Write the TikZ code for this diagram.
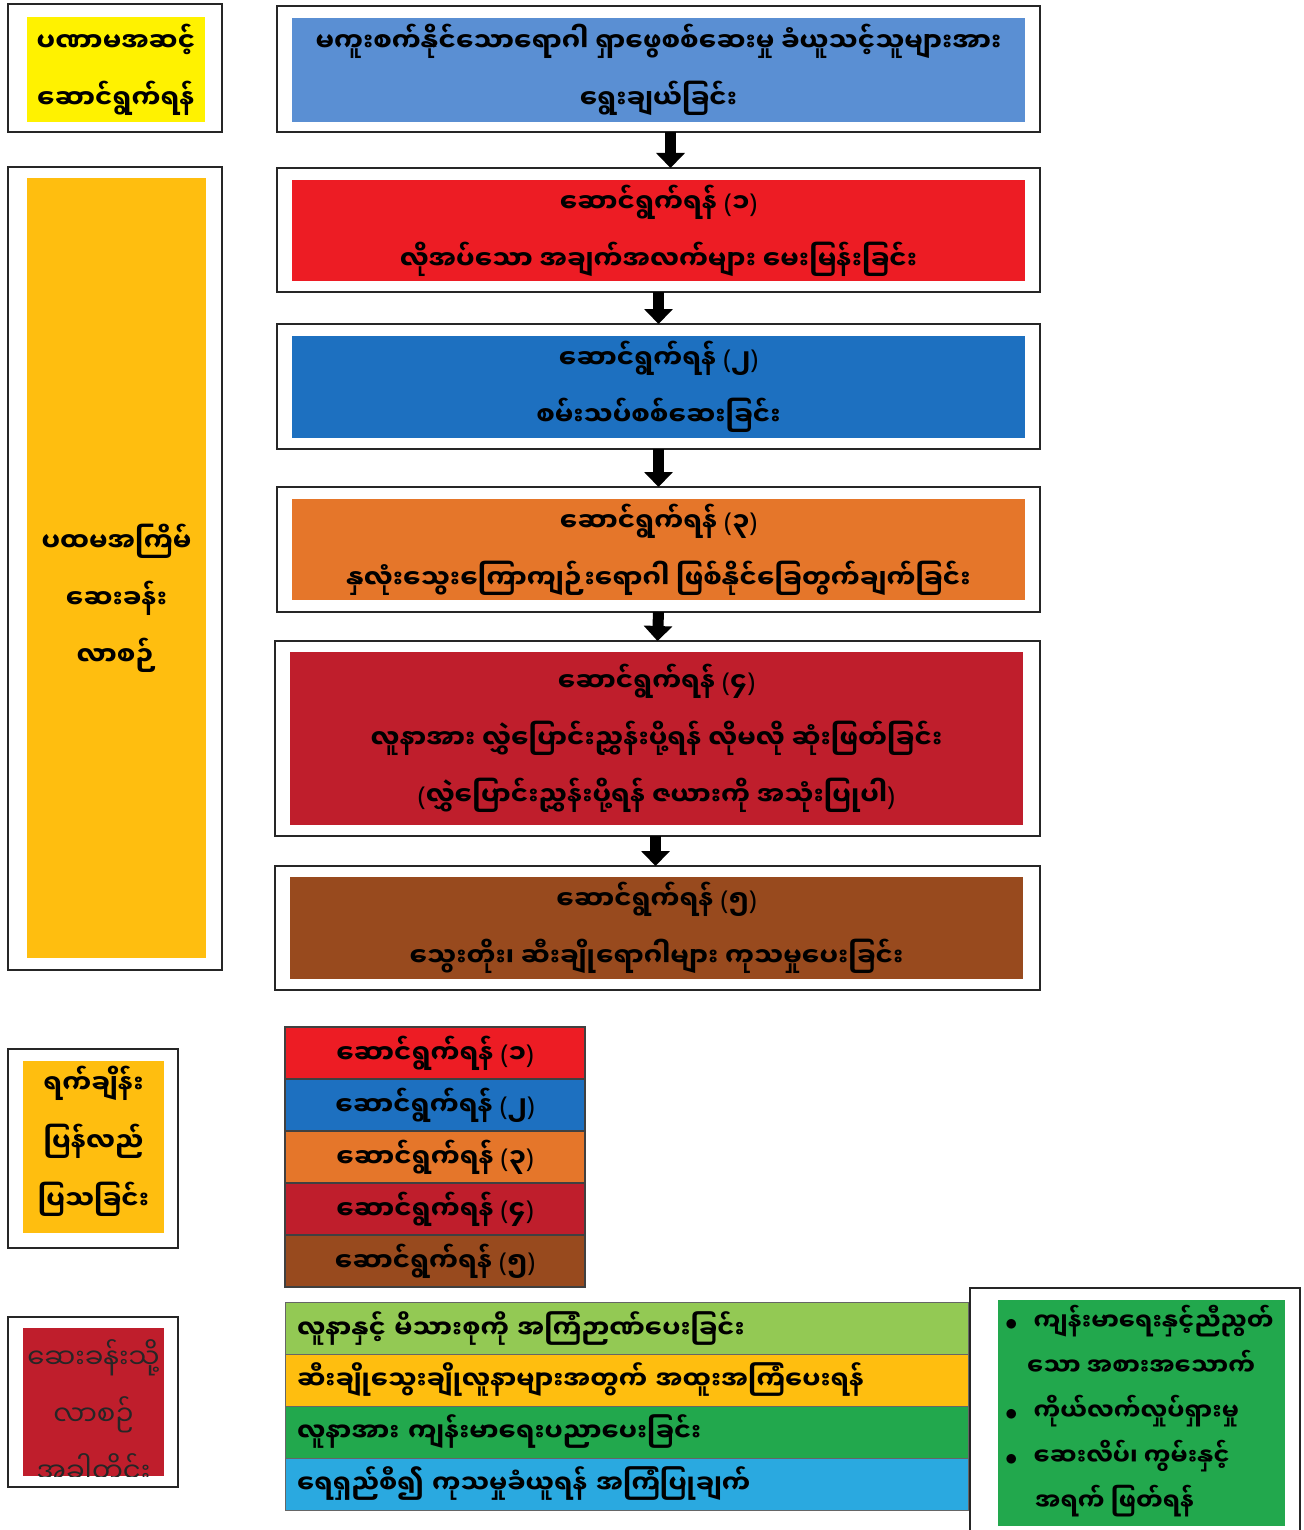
\documentclass[tikz,border=0pt]{standalone}
\usepackage{fontspec}
\setmainfont[Script=Myanmar]{Noto Sans Myanmar UI}
\newfontfamily\latinfont{Noto Sans}
\newcommand{\stepno}[1]{{\latinfont(}#1{\latinfont)}}
\usepackage{tikz}
\usetikzlibrary{arrows.meta,positioning}

\definecolor{paleyellow}{HTML}{FFF200}
\definecolor{amber}{HTML}{FFBE0F}
\definecolor{softblue}{HTML}{5A8FD3}
\definecolor{stepred}{HTML}{ED1C24}
\definecolor{stepblue}{HTML}{1D70C0}
\definecolor{steporange}{HTML}{E5762A}
\definecolor{stepcrimson}{HTML}{BF1E2C}
\definecolor{stepbrown}{HTML}{984A1E}
\definecolor{leafgreen}{HTML}{93C954}
\definecolor{midgreen}{HTML}{22A84D}
\definecolor{skyblue}{HTML}{2AA9E0}

\begin{document}
\begin{tikzpicture}[x=1pt, y=-1pt,
    frame/.style={draw=black!85, line width=2.5pt, inner sep=0pt, outer sep=0pt},
    panel/.style={inner sep=0pt, outer sep=0pt, align=center, font=\bfseries\fontsize{26}{57}\selectfont},
    legendrow/.style={draw=black!75, line width=1.2pt, inner sep=0pt, outer sep=0pt,
        minimum width=300pt, minimum height=52pt, font=\bfseries\fontsize{26}{31}\selectfont},
    carerow/.style={draw=black!60, line width=1pt, outer sep=0pt, inner xsep=12pt, inner ysep=0pt,
        text width=659pt, minimum height=52pt, align=left, font=\bfseries\fontsize{25.5}{30}\selectfont},
    bigarrow/.style={line width=11pt, -{Triangle[width=28pt,length=15pt]}}]

    \useasboundingbox (0,0) rectangle (1303,1530);

    % Preliminary step
    \node[frame, minimum width=214pt, minimum height=128pt] (preframe) at (115,68) {};
    \node[panel, fill=paleyellow, minimum width=178pt, minimum height=105pt] (prepanel) at (116,69.5)
        {ပဏာမအဆင့်\\ဆောင်ရွက်ရန်};
    \node[frame, minimum width=763pt, minimum height=126pt] (selframe) at (658.5,69) {};
    \node[panel, fill=softblue, minimum width=733pt, minimum height=104pt] (selpanel) at (658.5,70)
        {မကူးစက်နိုင်သောရောဂါ ရှာဖွေစစ်ဆေးမှု ခံယူသင့်သူများအား\\ရွေးချယ်ခြင်း};

    % First visit, steps one to five
    \node[frame, minimum width=214pt, minimum height=803pt] (visitframe) at (115,568.5) {};
    \node[panel, fill=amber, minimum width=179pt, minimum height=780pt] (visitpanel) at (116.5,568) {};
    \node[panel] (visittext) at ([yshift=-30pt]visitpanel.center) {ပထမအကြိမ်\\ဆေးခန်း\\လာစဉ်};

    \node[frame, minimum width=763pt, minimum height=124pt] (oneframe) at (658.5,230) {};
    \node[panel, fill=stepred, minimum width=733pt, minimum height=101pt] (onepanel) at (658.5,230.5)
        {ဆောင်ရွက်ရန် \stepno{၁}\\လိုအပ်သော အချက်အလက်များ မေးမြန်းခြင်း};
    \node[frame, minimum width=763pt, minimum height=125pt] (twoframe) at (658.5,386.5) {};
    \node[panel, fill=stepblue, minimum width=733pt, minimum height=102pt] (twopanel) at (658.5,387)
        {ဆောင်ရွက်ရန် \stepno{၂}\\စမ်းသပ်စစ်ဆေးခြင်း};
    \node[frame, minimum width=763pt, minimum height=125pt] (threeframe) at (658.5,549.5) {};
    \node[panel, fill=steporange, minimum width=733pt, minimum height=101pt] (threepanel) at (658.5,549.5)
        {ဆောင်ရွက်ရန် \stepno{၃}\\နှလုံးသွေးကြောကျဉ်းရောဂါ ဖြစ်နိုင်ခြေတွက်ချက်ခြင်း};
    \node[frame, minimum width=765pt, minimum height=195pt] (fourframe) at (657.5,738.5) {};
    \node[panel, fill=stepcrimson, minimum width=733pt, minimum height=173pt] (fourpanel) at (656.5,738.5)
        {ဆောင်ရွက်ရန် \stepno{၄}\\လူနာအား လွှဲပြောင်းညွှန်းပို့ရန် လိုမလို ဆုံးဖြတ်ခြင်း\\{\latinfont(}လွှဲပြောင်းညွှန်းပို့ရန် ဇယားကို အသုံးပြုပါ{\latinfont)}};
    \node[frame, minimum width=765pt, minimum height=124pt] (fiveframe) at (657.5,928) {};
    \node[panel, fill=stepbrown, minimum width=733pt, minimum height=102pt] (fivepanel) at (656.5,928)
        {ဆောင်ရွက်ရန် \stepno{၅}\\သွေးတိုး၊ ဆီးချိုရောဂါများ ကုသမှုပေးခြင်း};

    % Arrows between the steps
    \draw[bigarrow] ([xshift=12pt]selframe.south) -- ([xshift=12pt]oneframe.north);
    \draw[bigarrow] (oneframe.south) -- (twoframe.north);
    \draw[bigarrow] (twoframe.south) -- (threeframe.north);
    \draw[bigarrow] (threeframe.south) -- (fourframe.north);
    \draw[bigarrow] ([xshift=-2pt]fourframe.south) -- ([xshift=-2pt]fiveframe.north);

    % Follow-up visit
    \node[frame, minimum width=170pt, minimum height=199pt] (backframe) at (93,1148.5) {};
    \node[panel, fill=amber, minimum width=141pt, minimum height=172pt] (backpanel) at (93.5,1147) {};
    \node[panel, font=\bfseries\fontsize{26}{58}\selectfont] (backtext) at ([yshift=6pt]backpanel.center)
        {ရက်ချိန်း\\ပြန်လည်\\ပြသခြင်း};
    \node[legendrow, fill=stepred] (leg1) at (435,1053) {ဆောင်ရွက်ရန် \stepno{၁}};
    \node[legendrow, fill=stepblue, below=0pt of leg1] (leg2) {ဆောင်ရွက်ရန် \stepno{၂}};
    \node[legendrow, fill=steporange, below=0pt of leg2] (leg3) {ဆောင်ရွက်ရန် \stepno{၃}};
    \node[legendrow, fill=stepcrimson, below=0pt of leg3] (leg4) {ဆောင်ရွက်ရန် \stepno{၄}};
    \node[legendrow, fill=stepbrown, below=0pt of leg4] (leg5) {ဆောင်ရွက်ရန် \stepno{၅}};

    % Every visit
    \node[frame, minimum width=170pt, minimum height=170pt] (everyframe) at (93,1402) {};
    \node[panel, fill=stepcrimson, minimum width=141pt, minimum height=148pt] (everypanel) at (93.5,1402) {};
    \begin{scope}
        \clip (everypanel.south west) rectangle (everypanel.north east);
        \node[panel, text=black!85, font=\fontsize{27.5}{57}\selectfont] (everytext) at (93.5,1415)
            {ဆေးခန်းသို့\\လာစဉ်\\အခါတိုင်း};
    \end{scope}
    \node[carerow, fill=leafgreen] (care1) at (626.5,1328) {လူနာနှင့် မိသားစုကို အကြံဉာဏ်ပေးခြင်း};
    \node[carerow, fill=amber, below=0pt of care1] (care2) {ဆီးချိုသွေးချိုလူနာများအတွက် အထူးအကြံပေးရန်};
    \node[carerow, fill=midgreen, below=0pt of care2] (care3) {လူနာအား ကျန်းမာရေးပညာပေးခြင်း};
    \node[carerow, fill=skyblue, below=0pt of care3] (care4) {ရေရှည်စီ၍ ကုသမှုခံယူရန် အကြံပြုချက်};

    % Lifestyle advice
    \node[frame, anchor=north west, minimum width=330pt, minimum height=260pt] (lifeframe) at (970,1288) {};
    \node[fill=midgreen, anchor=north west, minimum width=287pt, minimum height=226pt, inner sep=0pt] (lifepanel) at (998,1300) {};
    \node[anchor=west, align=left, inner sep=0pt, font=\bfseries\fontsize{24}{45}\selectfont] (lifetext) at (1005,1411)
        {$\bullet$\hspace{16pt}ကျန်းမာရေးနှင့်ညီညွတ်\\
         \hspace{22pt}သော အစားအသောက်\\
         $\bullet$\hspace{16pt}ကိုယ်လက်လှုပ်ရှားမှု\\
         $\bullet$\hspace{16pt}ဆေးလိပ်၊ ကွမ်းနှင့်\\
         \hspace{30pt}အရက် ဖြတ်ရန်};
\end{tikzpicture}
\end{document}
